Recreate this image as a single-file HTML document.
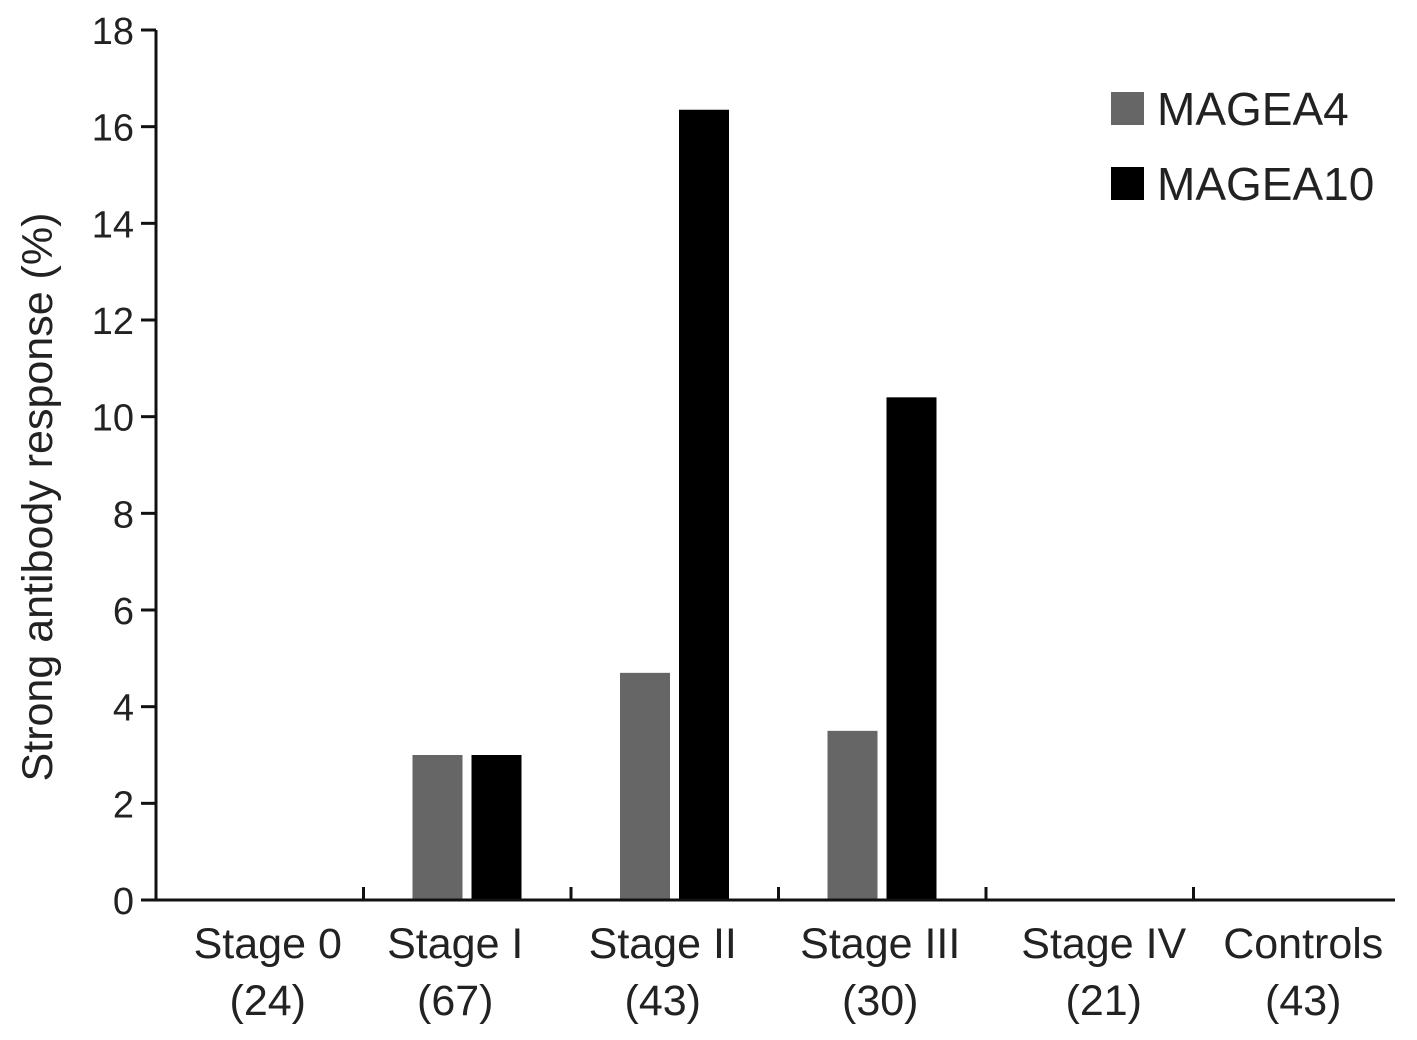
<!DOCTYPE html>
<html><head><meta charset="utf-8"><style>
body{margin:0;background:#fff;}
svg text{font-family:"Liberation Sans",sans-serif;fill:#222;}
</style></head><body>
<svg id="chart" width="1417" height="1035" viewBox="0 0 1417 1035" xmlns="http://www.w3.org/2000/svg"></svg>
<script>
const categories=["Stage 0","Stage I","Stage II","Stage III","Stage IV","Controls"];
const counts=["(24)","(67)","(43)","(30)","(21)","(43)"];
const magea4=[0,3.0,4.7,3.5,0,0];
const magea10=[0,3.0,16.35,10.4,0,0];
const yTicks=[0,2,4,6,8,10,12,14,16,18];

const svg=document.getElementById('chart');
const NS="http://www.w3.org/2000/svg";
const x0=156,y0=900,yTop=30,catW=207.5,yMax=18;
const labelShift=[8,-12,-12,-2,14,6];
const y=v=>y0-(v/yMax)*(y0-yTop);
const cx=i=>x0+i*catW;
function mk(t,a,parent){const e=document.createElementNS(NS,t);for(const k in a)e.setAttribute(k,a[k]);(parent||svg).appendChild(e);return e;}

categories.forEach((c,i)=>{
  if(magea4[i]>0){
    const r=mk('rect',{x:cx(i)+49,y:y(magea4[i]),width:50,height:y0-y(magea4[i]),fill:'#666'});
    
    
  }
  if(magea10[i]>0){
    const r=mk('rect',{x:cx(i)+108,y:y(magea10[i]),width:50,height:y0-y(magea10[i]),fill:'#000'});
    
    
  }
});

const ya=mk('line',{x1:x0,y1:yTop,x2:x0,y2:y0+1,stroke:'#111','stroke-width':3});


const xa=mk('line',{x1:x0-15,y1:y0,x2:x0+6*catW-6,y2:y0,stroke:'#111','stroke-width':3});



yTicks.forEach(v=>{
  mk('line',{x1:x0-15,y1:y(v),x2:x0,y2:y(v),stroke:'#111','stroke-width':3});
  const t=mk('text',{x:x0-22,y:y(v)+14,'text-anchor':'end','font-size':38});
  t.textContent=v;
  
  
});
for(let i=1;i<6;i++){
  mk('line',{x1:cx(i),y1:y0-13,x2:cx(i),y2:y0,stroke:'#111','stroke-width':3});
}
categories.forEach((c,i)=>{
  const mx=cx(i)+catW/2+labelShift[i];
  const t=mk('text',{x:mx,y:958,'text-anchor':'middle','font-size':43});
  t.textContent=c;
  
  
  const t2=mk('text',{x:mx,y:1015,'text-anchor':'middle','font-size':43});
  t2.textContent=counts[i];
  
  
});

const yt=mk('text',{x:0,y:0,'text-anchor':'middle','font-size':43,transform:'translate(52,497) rotate(-90)'});
yt.textContent='Strong antibody response (%)';



const l1=mk('rect',{x:1111,y:92,width:33,height:33,fill:'#666'});


const lt1=mk('text',{x:1157,y:125,'font-size':46});
lt1.textContent='MAGEA4';


const l2=mk('rect',{x:1111,y:167,width:33,height:33,fill:'#000'});


const lt2=mk('text',{x:1157,y:200,'font-size':46});
lt2.textContent='MAGEA10';


</script>
</body></html>
